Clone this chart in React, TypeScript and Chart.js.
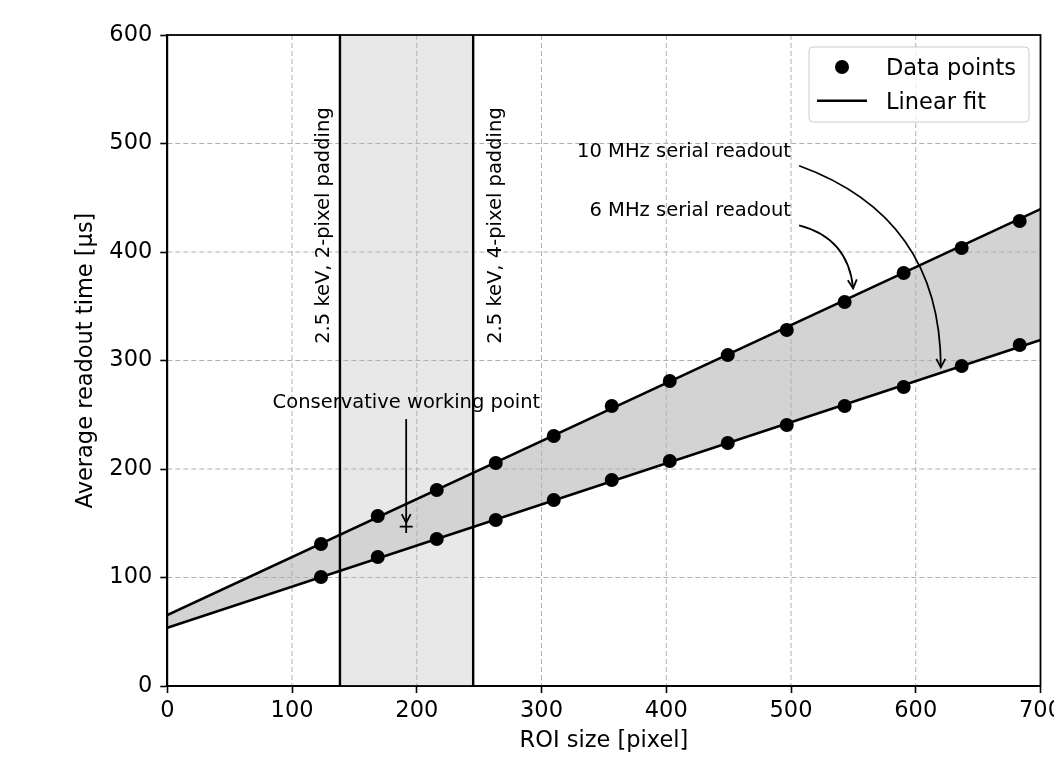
import React, { useEffect, useRef } from "react";
import { Chart, registerables } from "chart.js";

Chart.register(...registerables);

// ---------------- data ----------------
const ROI_SIZE = [123.2, 168.7, 216.0, 263.3, 309.8, 356.3, 402.8, 449.3, 496.6, 543.0, 590.3, 636.8, 683.3];
const TIME_6MHZ = [130.9, 156.7, 180.6, 205.5, 230.4, 258.0, 281.1, 305.0, 328.1, 353.9, 380.6, 403.7, 428.6];
const TIME_10MHZ = [100.5, 118.9, 135.5, 153.0, 171.4, 189.9, 207.4, 224.0, 240.6, 258.0, 275.6, 294.9, 314.3];
const FIT_X = [0, 700];
const FIT_6MHZ = [65.4, 439.6];
const FIT_10MHZ = [53.7, 318.9];
const PADDING_LINES = [138.4, 245.2];
const PADDING_LABELS = ["2.5 keV, 2-pixel padding", "2.5 keV, 4-pixel padding"];
const PADDING_LABEL_X = [125.8, 263.5];
const PADDING_LABEL_Y = 424.4;
const WORKING_POINT = [{ x: 191.5, y: 146.9 }];
const X_RANGE = [0, 700];
const Y_RANGE = [0, 600];
const TICK_STEP = 100;

// annotations: text anchor (data), arrow start/end (data), curvature
const ANNOTATIONS = [
  { text: "Conservative working point", tx: 191.7, ty: 256.0, align: "center", sx: 191.5, sy: 246.0, ex: 191.5, ey: 150.6, rad: 0 },
  { text: "10 MHz serial readout", tx: 500, ty: 487.8, align: "right", sx: 506.5, sy: 479.5, ex: 620.1, ey: 293.7, rad: 0.35 },
  { text: "6 MHz serial readout", tx: 500, ty: 433.5, align: "right", sx: 506.5, sy: 424.6, ex: 549.8, ey: 366.5, rad: 0.35 },
];

const FONT = "'DejaVu Sans', sans-serif";
const LABEL_SIZE = 22.5;
const ANNOT_SIZE = 19.5;

function toXY(xs: number[], ys: number[]) {
  return xs.map((x, i) => ({ x, y: ys[i] }));
}

function drawArrow(ctx: CanvasRenderingContext2D, sx: number, sy: number, ex: number, ey: number, f: number) {
  const mx = (sx + ex) / 2, my = (sy + ey) / 2;
  const dx = ex - sx, dy = ey - sy;
  const cx = mx + f * dy, cy = my - f * dx;
  ctx.beginPath();
  ctx.moveTo(sx, sy);
  ctx.quadraticCurveTo(cx, cy, ex, ey);
  ctx.stroke();
  const ang = Math.atan2(ey - cy, ex - cx);
  const L = 8.5, W = 4.5;
  const bx = ex - L * Math.cos(ang), by = ey - L * Math.sin(ang);
  const nx = -Math.sin(ang), ny = Math.cos(ang);
  ctx.beginPath();
  ctx.moveTo(bx + W * nx, by + W * ny);
  ctx.lineTo(ex, ey);
  ctx.lineTo(bx - W * nx, by - W * ny);
  ctx.stroke();
}

const decorPlugin = {
  id: "decor",
  beforeDraw(chart: any) {
    const { ctx, width, height } = chart;
    ctx.save();
    ctx.fillStyle = "#ffffff";
    ctx.fillRect(0, 0, width, height);
    ctx.restore();
  },
  beforeDatasetsDraw(chart: any) {
    const { ctx, chartArea: a, scales } = chart;
    const x0 = scales.x.getPixelForValue(PADDING_LINES[0]);
    const x1 = scales.x.getPixelForValue(PADDING_LINES[1]);
    ctx.save();
    ctx.fillStyle = "#e8e8e8";
    ctx.fillRect(x0, a.top, x1 - x0, a.bottom - a.top);
    ctx.restore();
  },
  afterDatasetDraw(chart: any, args: any) {
    if (args.index !== 1) return;
    const { ctx, chartArea: a, scales } = chart;
    ctx.save();
    ctx.strokeStyle = "#b0b0b0";
    ctx.lineWidth = 1;
    ctx.setLineDash([5, 3]);
    scales.x.ticks.forEach((t: any) => {
      const px = scales.x.getPixelForValue(t.value);
      if (px <= a.left + 1 || px >= a.right - 1) return;
      ctx.beginPath();
      ctx.moveTo(px, a.top);
      ctx.lineTo(px, a.bottom);
      ctx.stroke();
    });
    scales.y.ticks.forEach((t: any) => {
      const py = scales.y.getPixelForValue(t.value);
      if (py <= a.top + 1 || py >= a.bottom - 1) return;
      ctx.beginPath();
      ctx.moveTo(a.left, py);
      ctx.lineTo(a.right, py);
      ctx.stroke();
    });
    ctx.setLineDash([]);
    ctx.strokeStyle = "#000000";
    ctx.lineWidth = 2.4;
    PADDING_LINES.forEach((v) => {
      const px = scales.x.getPixelForValue(v);
      ctx.beginPath();
      ctx.moveTo(px, a.top);
      ctx.lineTo(px, a.bottom);
      ctx.stroke();
    });
    ctx.restore();
  },
  afterDatasetsDraw(chart: any) {
    const { ctx, scales } = chart;
    const X = (v: number) => scales.x.getPixelForValue(v);
    const Y = (v: number) => scales.y.getPixelForValue(v);
    ctx.save();
    ctx.fillStyle = "#000000";
    ctx.strokeStyle = "#000000";
    ctx.font = `${ANNOT_SIZE}px ${FONT}`;
    // rotated padding labels
    PADDING_LABELS.forEach((txt, i) => {
      ctx.save();
      ctx.translate(X(PADDING_LABEL_X[i]), Y(PADDING_LABEL_Y));
      ctx.rotate(-Math.PI / 2);
      ctx.textAlign = "center";
      ctx.textBaseline = "middle";
      ctx.fillText(txt, 0, 0);
      ctx.restore();
    });
    // annotations
    ctx.lineWidth = 1.8;
    ANNOTATIONS.forEach((an) => {
      ctx.textAlign = an.align as CanvasTextAlign;
      ctx.textBaseline = "alphabetic";
      ctx.fillText(an.text, X(an.tx), Y(an.ty));
      drawArrow(ctx, X(an.sx), Y(an.sy), X(an.ex), Y(an.ey), an.rad);
    });
    ctx.restore();
  },
  afterDraw(chart: any) {
    const { ctx, chartArea: a } = chart;
    ctx.save();
    // spines
    ctx.strokeStyle = "#000000";
    ctx.lineWidth = 1.8;
    ctx.strokeRect(a.left, a.top, a.right - a.left, a.bottom - a.top);
    // legend
    const lx = a.right - 231.5, ly = a.top + 12, lw = 220, lh = 75;
    ctx.beginPath();
    (ctx as any).roundRect(lx, ly, lw, lh, 4);
    ctx.fillStyle = "rgba(255,255,255,0.8)";
    ctx.fill();
    ctx.strokeStyle = "#cccccc";
    ctx.lineWidth = 1;
    ctx.stroke();
    ctx.fillStyle = "#000000";
    ctx.beginPath();
    ctx.arc(lx + 33, ly + 20, 7, 0, Math.PI * 2);
    ctx.fill();
    ctx.strokeStyle = "#000000";
    ctx.lineWidth = 2.5;
    ctx.beginPath();
    ctx.moveTo(lx + 8, ly + 53.7);
    ctx.lineTo(lx + 58, ly + 53.7);
    ctx.stroke();
    ctx.font = `${LABEL_SIZE}px ${FONT}`;
    ctx.textAlign = "left";
    ctx.textBaseline = "alphabetic";
    ctx.fillText("Data points", lx + 77, ly + 28);
    ctx.fillText("Linear fit", lx + 77, ly + 61.7);
    ctx.restore();
  },
};

export default function App() {
  const ref = useRef<HTMLCanvasElement | null>(null);

  useEffect(() => {
    if (!ref.current) return;
    const tickFont = { family: FONT, size: LABEL_SIZE };
    const chart = new Chart(ref.current, {
      type: "scatter",
      data: {
        datasets: [
          {
            label: "band",
            data: toXY(FIT_X, FIT_6MHZ),
            showLine: true,
            borderWidth: 0,
            borderColor: "rgba(0,0,0,0)",
            pointRadius: 0,
            backgroundColor: "#d3d3d3",
            fill: 1,
            order: 10,
          },
          {
            label: "band-bottom",
            data: toXY(FIT_X, FIT_10MHZ),
            showLine: true,
            borderWidth: 0,
            borderColor: "rgba(0,0,0,0)",
            pointRadius: 0,
            fill: false,
            order: 9,
          },
          {
            label: "Linear fit",
            data: toXY(FIT_X, FIT_6MHZ),
            showLine: true,
            borderColor: "#000000",
            borderWidth: 2.5,
            pointRadius: 0,
            fill: false,
            order: 5,
          },
          {
            label: "Linear fit 10 MHz",
            data: toXY(FIT_X, FIT_10MHZ),
            showLine: true,
            borderColor: "#000000",
            borderWidth: 2.5,
            pointRadius: 0,
            fill: false,
            order: 5,
          },
          {
            label: "Data points",
            data: toXY(ROI_SIZE, TIME_6MHZ),
            pointRadius: 7,
            pointBackgroundColor: "#000000",
            pointBorderWidth: 0,
            order: 1,
          },
          {
            label: "Data points 10 MHz",
            data: toXY(ROI_SIZE, TIME_10MHZ),
            pointRadius: 7,
            pointBackgroundColor: "#000000",
            pointBorderWidth: 0,
            order: 1,
          },
          {
            label: "Working point",
            data: WORKING_POINT,
            pointStyle: "cross",
            pointRadius: 6.5,
            pointBorderColor: "#000000",
            pointBorderWidth: 1.8,
            order: 0,
          },
        ],
      },
      options: {
        responsive: false,
        animation: false,
        devicePixelRatio: 1,
        layout: { padding: { left: 0, top: 35, right: 13.5, bottom: 0 } },
        plugins: { legend: { display: false }, tooltip: { enabled: false } },
        scales: {
          x: {
            type: "linear",
            min: X_RANGE[0],
            max: X_RANGE[1],
            ticks: { stepSize: TICK_STEP, font: tickFont, color: "#000000", padding: 5, maxRotation: 0 },
            grid: { display: true, drawOnChartArea: false, drawTicks: true, tickLength: 7, tickColor: "#000000", tickWidth: 1.6 },
            border: { display: true, color: "#000000", width: 1.8 },
            title: { display: true, text: "ROI size [pixel]", font: tickFont, color: "#000000", padding: { top: 0, bottom: 9.5 } },
            afterFit(scale: any) {
              scale.height = 78;
              scale.paddingLeft = 0;
              scale.paddingRight = 0;
            },
          },
          y: {
            type: "linear",
            min: Y_RANGE[0],
            max: Y_RANGE[1],
            ticks: { stepSize: TICK_STEP, font: tickFont, color: "#000000", padding: 8 },
            grid: { display: true, drawOnChartArea: false, drawTicks: true, tickLength: 7, tickColor: "#000000", tickWidth: 1.6 },
            border: { display: true, color: "#000000", width: 1.8 },
            title: { display: true, text: "Average readout time [μs]", font: tickFont, color: "#000000", padding: { top: 72.5, bottom: 0 } },
            afterFit(scale: any) {
              scale.width = 167.3;
              scale.paddingTop = 0;
              scale.paddingBottom = 0;
            },
          },
        },
      } as any,
      plugins: [decorPlugin as any],
    });
    return () => chart.destroy();
  }, []);

  return (
    <div style={{ position: "fixed", left: 0, top: 0, width: 1054, height: 764 }}>
      <canvas ref={ref} width={1054} height={764} />
    </div>
  );
}
